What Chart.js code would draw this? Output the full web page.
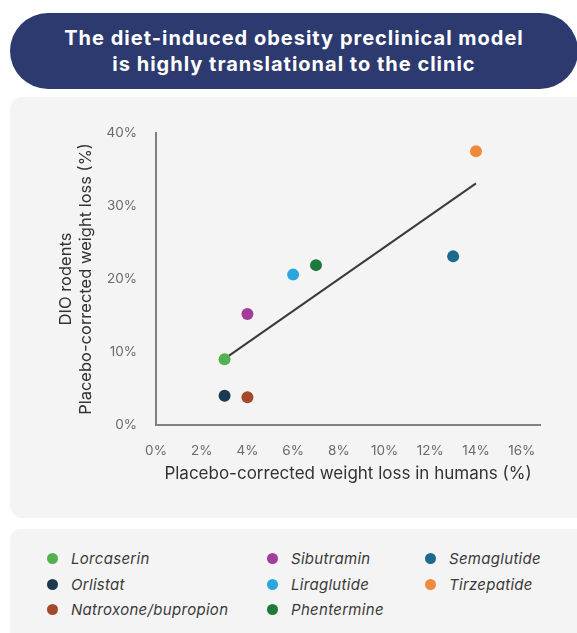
<!DOCTYPE html>
<html lang="en">

<head>
    <meta charset="UTF-8">
    <meta name="viewport" content="width=device-width, initial-scale=1.0">
    <title>DIO model vs clinic</title>
    <script src="https://cdn.jsdelivr.net/npm/chart.js"></script>
    <style>
        body {
            margin: 0;
            width: 577px;
            height: 633px;
            overflow: hidden;
            background: #fff;
            font-family: Inter, "Open Sans", sans-serif;
            position: relative;
        }

        #banner {
            position: absolute;
            left: 10px;
            top: 13px;
            width: 568px;
            height: 76px;
            border-radius: 38px;
            background: #2d3a6f;
            color: #fff;
            font-weight: 700;
            font-size: 20px;
            letter-spacing: 1px;
            line-height: 26px;
            text-align: center;
            display: flex;
            align-items: center;
            justify-content: center;
        }

        #chart-panel {
            position: absolute;
            left: 10px;
            top: 97px;
            width: 580px;
            height: 421px;
            border-radius: 12px;
            background: #f5f4f5;
        }

        #chart-box {
            position: absolute;
            left: 0;
            top: 0;
            width: 567px;
            height: 421px;
        }

        #legend-panel {
            position: absolute;
            left: 10px;
            top: 529px;
            width: 580px;
            height: 115px;
            border-radius: 10px;
            background: #f5f4f5;
        }

        #legend {
            position: absolute;
            left: 37px;
            top: 17px;
            display: grid;
            grid-auto-flow: column;
            grid-template-rows: repeat(3, 25.5px);
            grid-template-columns: 220px 158px auto;
        }

        .item {
            display: flex;
            align-items: center;
            font-style: italic;
            font-size: 15px;
            letter-spacing: 0.3px;
            color: #3a3a3a;
        }

        .dot {
            width: 11px;
            height: 11px;
            border-radius: 50%;
            margin-right: 13px;
        }
    </style>
</head>

<body>
    <div id="banner">The diet-induced obesity preclinical model<br>is highly translational to the clinic</div>
    <div id="chart-panel">
        <div id="chart-box"><canvas id="dioChart"></canvas></div>
    </div>
    <div id="legend-panel">
        <div id="legend"></div>
    </div>

    <script>
        const drugs = ['Lorcaserin', 'Orlistat', 'Natroxone/bupropion', 'Sibutramin', 'Liraglutide', 'Phentermine', 'Semaglutide', 'Tirzepatide'];
        const humanLoss = [3, 3, 4, 4, 6, 7, 13, 14];     // % placebo-corrected, humans
        const rodentLoss = [9, 4, 3.8, 15.2, 20.6, 21.9, 23.1, 37.5]; // % DIO rodents
        const drugColors = ['#52b04f', '#1b3a4f', '#a4492a', '#a33d9b', '#2ba6de', '#1e7a3c', '#1e6a8e', '#ef8a3c'];
        const trendX = [3.15, 14];
        const trendY = [9.4, 33.1];
        const xTicks = [0, 2, 4, 6, 8, 10, 12, 14, 16];
        const yTicks = [0, 10, 20, 30, 40];

        // HTML legend (3 rows, filled column by column)
        const legendEl = document.getElementById('legend');
        drugs.forEach((name, i) => {
            const item = document.createElement('div');
            item.className = 'item';
            const dot = document.createElement('span');
            dot.className = 'dot';
            dot.style.background = drugColors[i];
            item.appendChild(dot);
            item.appendChild(document.createTextNode(name));
            legendEl.appendChild(item);
        });

        const datasets = drugs.map((name, i) => ({
            type: 'scatter',
            label: name,
            data: [{ x: humanLoss[i], y: rodentLoss[i] }],
            backgroundColor: drugColors[i],
            borderWidth: 0,
            pointRadius: 6,
            pointHoverRadius: 6,
            order: 1
        }));

        datasets.push({
            type: 'line',
            label: 'trend',
            data: trendX.map((x, i) => ({ x: x, y: trendY[i] })),
            borderColor: '#3a3a3a',
            borderWidth: 2,
            pointRadius: 0,
            fill: false,
            order: 2
        });

        const fontFamily = 'Inter, "Open Sans", sans-serif';

        new Chart(document.getElementById('dioChart'), {
            type: 'scatter',
            data: { datasets: datasets },
            options: {
                responsive: true,
                maintainAspectRatio: false,
                animation: false,
                events: [],
                layout: {
                    padding: { left: 0, right: 37, top: 36, bottom: 0 }
                },
                plugins: {
                    legend: { display: false },
                    tooltip: { enabled: false }
                },
                scales: {
                    x: {
                        type: 'linear',
                        min: 0,
                        max: 16.8,
                        afterFit: (scale) => { scale.height = 93; },
                        afterBuildTicks: (scale) => { scale.ticks = xTicks.map(v => ({ value: v })); },
                        grid: { display: false, drawTicks: false },
                        border: { display: true, color: '#808080', width: 2 },
                        ticks: {
                            padding: 18,
                            color: '#6a6a6a',
                            font: { family: fontFamily, size: 13.5 },
                            callback: (v) => v + '%'
                        },
                        title: {
                            display: true,
                            text: 'Placebo-corrected weight loss in humans (%)',
                            color: '#333',
                            font: { family: fontFamily, size: 17 },
                            padding: { top: 0, bottom: 34 }
                        }
                    },
                    y: {
                        type: 'linear',
                        min: 0,
                        max: 40,
                        afterFit: (scale) => { scale.width = 146; },
                        afterBuildTicks: (scale) => { scale.ticks = yTicks.map(v => ({ value: v })); },
                        grid: { display: false, drawTicks: false },
                        border: { display: true, color: '#808080', width: 2 },
                        ticks: {
                            padding: 19,
                            color: '#6a6a6a',
                            font: { family: fontFamily, size: 13.5 },
                            callback: (v) => v + '%'
                        },
                        title: {
                            display: true,
                            text: ['DIO rodents', 'Placebo-corrected weight loss (%)'],
                            color: '#333',
                            font: { family: fontFamily, size: 16.5, lineHeight: 1.2 },
                            padding: { top: 46, bottom: 0 }
                        }
                    }
                }
            }
        });
    </script>
</body>

</html>
